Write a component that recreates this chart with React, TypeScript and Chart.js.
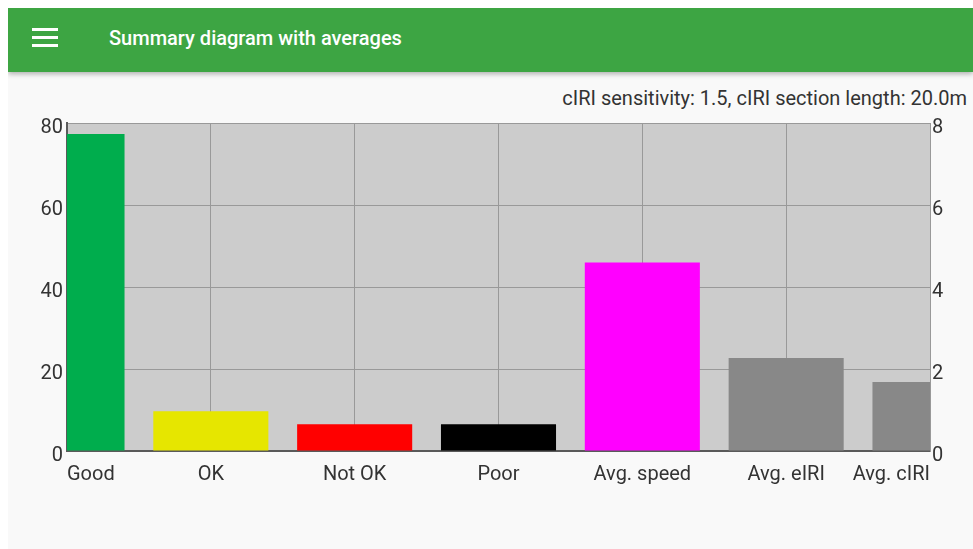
import React, { useEffect, useRef } from "react";
import { Chart, registerables } from "chart.js";

Chart.register(...registerables);

// Road condition shares (%) and survey averages
const categories = ["Good", "OK", "Not OK", "Poor", "Avg. speed", "Avg. eIRI", "Avg. cIRI"];
const shareValues = [77.3, 9.7, 6.5, 6.5, null, null, null];
const averageValues = [null, null, null, null, 4.6, 2.27, 1.68];
const barColors = ["#00ad4d", "#e6e600", "#ff0000", "#000000", "#ff00ff", "#888888", "#888888"];
const leftTicks = [0, 20, 40, 60, 80];
const rightTicks = [0, 2, 4, 6, 8];

const FONT = "Roboto, 'Noto Sans', sans-serif";
const TEXT = "#333333";

// Paints the plot background and the category labels (kept inside the plot edges)
const plotDecor = {
  id: "plotDecor",
  beforeDraw(chart: any) {
    const { ctx, chartArea } = chart;
    ctx.save();
    ctx.fillStyle = "#cccccc";
    ctx.fillRect(chartArea.left, chartArea.top, chartArea.right - chartArea.left, chartArea.bottom - chartArea.top);
    ctx.restore();
  },
  afterDraw(chart: any) {
    const { ctx, chartArea } = chart;
    const x = chart.scales.x;
    ctx.save();
    ctx.font = `20px ${FONT}`;
    ctx.fillStyle = TEXT;
    ctx.textBaseline = "alphabetic";
    ctx.textAlign = "left";
    categories.forEach((label, i) => {
      const px = x.getPixelForTick(i);
      const w = ctx.measureText(label).width;
      const left = Math.min(Math.max(px - w / 2, chartArea.left), chartArea.right - w);
      ctx.fillText(label, left, chartArea.bottom + 29);
    });
    ctx.restore();
  },
};

function SummaryChart() {
  const ref = useRef<HTMLCanvasElement | null>(null);

  useEffect(() => {
    if (!ref.current) return;
    const chart = new Chart(ref.current, {
      type: "bar",
      data: {
        labels: categories,
        datasets: [
          {
            label: "Share",
            data: shareValues,
            backgroundColor: barColors,
            yAxisID: "y",
            grouped: false,
            barPercentage: 0.8,
            categoryPercentage: 1,
          },
          {
            label: "Average",
            data: averageValues,
            backgroundColor: barColors,
            yAxisID: "y1",
            grouped: false,
            barPercentage: 0.8,
            categoryPercentage: 1,
          },
        ],
      },
      options: {
        responsive: false,
        animation: false,
        layout: { padding: { top: 10, bottom: 52, left: 0, right: 0 } },
        plugins: { legend: { display: false }, tooltip: { enabled: false } },
        scales: {
          x: {
            type: "category",
            offset: false,
            ticks: { display: false },
            grid: { color: "#999999", lineWidth: 1, drawTicks: false, offset: false },
            border: { color: "#5a5a5a", width: 2 },
            afterFit: (s: any) => {
              s.height = 0;
              s.paddingLeft = 0;
              s.paddingRight = 0;
            },
          },
          y: {
            position: "left",
            min: leftTicks[0],
            max: leftTicks[leftTicks.length - 1],
            ticks: {
              stepSize: leftTicks[1] - leftTicks[0],
              color: TEXT,
              font: { family: FONT, size: 20 },
              padding: 4,
              labelOffset: 5,
            },
            grid: { color: "#999999", lineWidth: 1, drawTicks: false },
            border: { color: "#5a5a5a", width: 2 },
            afterFit: (s: any) => {
              s.width = 59;
              s.paddingTop = 0;
              s.paddingBottom = 0;
            },
          },
          y1: {
            position: "right",
            min: rightTicks[0],
            max: rightTicks[rightTicks.length - 1],
            ticks: {
              stepSize: rightTicks[1] - rightTicks[0],
              color: TEXT,
              font: { family: FONT, size: 20 },
              padding: 2,
              labelOffset: 5,
            },
            grid: { drawOnChartArea: false, drawTicks: false },
            border: { color: "#999999", width: 1 },
            afterFit: (s: any) => {
              s.width = 43;
              s.paddingTop = 0;
              s.paddingBottom = 0;
            },
          },
        },
      },
      plugins: [plotDecor],
    } as any);
    return () => chart.destroy();
  }, []);

  return (
    <canvas
      ref={ref}
      width={965}
      height={390}
      style={{ position: "absolute", left: 0, top: 105, width: 965, height: 390 }}
    />
  );
}

export default function App() {
  return (
    <div
      style={{
        position: "fixed",
        left: 8,
        top: 8,
        right: 0,
        bottom: 0,
        background: "#f9f9f9",
        overflow: "hidden",
        fontFamily: FONT,
      }}
    >
      <div
        style={{
          position: "absolute",
          left: 0,
          top: 0,
          right: 0,
          height: 64,
          background: "#3da543",
          boxShadow: "0 2px 5px rgba(0,0,0,0.3)",
          zIndex: 2,
        }}
      >
        {[21, 29, 37].map((t) => (
          <div
            key={t}
            style={{ position: "absolute", left: 24, top: t - 1, width: 26, height: 3, background: "#ffffff" }}
          />
        ))}
        <div
          style={{
            position: "absolute",
            left: 101,
            top: 18,
            color: "#ffffff",
            fontSize: 20,
            fontWeight: 500,
            lineHeight: "24px",
            whiteSpace: "nowrap",
          }}
        >
          Summary diagram with averages
        </div>
      </div>
      <div
        style={{
          position: "absolute",
          right: 6,
          top: 78,
          color: TEXT,
          fontSize: 20,
          lineHeight: "24px",
          whiteSpace: "nowrap",
        }}
      >
        cIRI sensitivity: 1.5, cIRI section length: 20.0m
      </div>
      <SummaryChart />
    </div>
  );
}
